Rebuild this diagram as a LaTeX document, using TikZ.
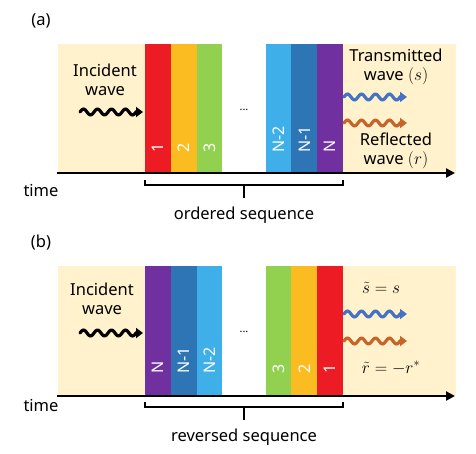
\documentclass[tikz,border=0pt]{standalone}
\usepackage{fontspec}
\setmainfont{Noto Sans}
\usetikzlibrary{arrows.meta}
\definecolor{beige}{HTML}{FFF2CC}
\definecolor{cred}{HTML}{ED1C24}
\definecolor{corange}{HTML}{FBBC21}
\definecolor{cgreen}{HTML}{92D050}
\definecolor{clblue}{HTML}{3FAFEA}
\definecolor{cblue}{HTML}{2E75B6}
\definecolor{cpurple}{HTML}{7030A0}
\definecolor{wblue}{HTML}{4472C4}
\definecolor{worange}{HTML}{C5652A}
\tikzset{
  bg/.style={fill=beige, draw=none},
  stripbox/.style={minimum width=25.8pt, minimum height=129pt, inner sep=0pt, outer sep=0pt, draw=none, anchor=north west},
  slabel/.style={rotate=90, anchor=west, inner sep=0pt, text=white, font=\fontsize{16}{18}\selectfont},
  txt/.style={font=\fontsize{16.5}{19}\selectfont, inner sep=0pt, align=center},
  mtxt/.style={font=\fontsize{18.5}{20}\selectfont, inner sep=0pt, align=center},
  axisline/.style={line width=2.6pt, -{Triangle[length=9pt,width=9pt]}},
  bracket/.style={line width=1.3pt},
  wavepic/.pic={\draw[line width=3.2pt, line cap=round, -{Triangle[length=7pt,width=10pt]}]
      plot[domain=0:56, samples=80, smooth] (\x,{-2.9*sin(\x*25.7143)}) -- (63,0);},
}
\begin{document}
\begin{tikzpicture}[x=1pt,y=-1pt]
\useasboundingbox (0,0) rectangle (476,453);
% ---------------- panel (a)
\node[txt] (la) at (41,21) {(a)};
\fill[bg] (58,44) rectangle (145,173);
\fill[bg] (343,44) rectangle (456,173);
\node[stripbox, fill=cred]    (a1) at (145,44) {};
\node[stripbox, fill=corange] (a2) at (170.8,44) {};
\node[stripbox, fill=cgreen]  (a3) at (196.6,44) {};
\node[stripbox, fill=clblue]  (a4) at (265.6,44) {};
\node[stripbox, fill=cblue]   (a5) at (291.4,44) {};
\node[stripbox, fill=cpurple] (a6) at (317.2,44) {};
\node[slabel] (ta1) at (157.9,153) {1};
\node[slabel] (ta2) at (183.7,153) {2};
\node[slabel] (ta3) at (209.5,153) {3};
\node[slabel] (ta4) at (278.5,153) {N-2};
\node[slabel] (ta5) at (304.3,153) {N-1};
\node[slabel] (ta6) at (330.1,153) {N};
\node[txt] (dota) at (244,110) {\fontsize{11}{12}\selectfont ...};
\node[txt] (inca) at (105,80) {Incident\\wave};
\coordinate (wa0) at (80,112);
\pic[black] at (wa0) {wavepic};
\node[txt] (tra) at (396,67) {Transmitted\\wave {\fontsize{18}{20}\selectfont\((s)\)}};
\node[txt] (rea) at (396,151) {Reflected\\wave {\fontsize{18}{20}\selectfont\((r)\)}};
\coordinate (wa1) at (344,97);
\coordinate (wa2) at (344,123);
\pic[wblue] at (wa1) {wavepic};
\pic[worange] at (wa2) {wavepic};
\coordinate (axa0) at (57,173);
\coordinate (axa1) at (455,173);
\draw[axisline] (axa0) -- (axa1);
\node[txt] (tia) at (41,190) {time};
\draw[bracket] (145,180) -- (145,185) -- (343,185) -- (343,180);
\draw[bracket] (244,185) -- (244,198);
\node[txt] (oa) at (244,215) {ordered sequence};
% ---------------- panel (b)
\node[txt] (lb) at (41,243) {(b)};
\fill[bg] (58,266) rectangle (145,395);
\fill[bg] (343,266) rectangle (456,395);
\node[stripbox, fill=cpurple] (b1) at (145,266) {};
\node[stripbox, fill=cblue]   (b2) at (170.8,266) {};
\node[stripbox, fill=clblue]  (b3) at (196.6,266) {};
\node[stripbox, fill=cgreen]  (b4) at (265.6,266) {};
\node[stripbox, fill=corange] (b5) at (291.4,266) {};
\node[stripbox, fill=cred]    (b6) at (317.2,266) {};
\node[slabel] (tb1) at (157.9,374) {N};
\node[slabel] (tb2) at (183.7,374) {N-1};
\node[slabel] (tb3) at (209.5,374) {N-2};
\node[slabel] (tb4) at (278.5,374) {3};
\node[slabel] (tb5) at (304.3,374) {2};
\node[slabel] (tb6) at (330.1,374) {1};
\node[txt] (dotb) at (244,332) {\fontsize{11}{12}\selectfont ...};
\node[txt] (incb) at (102,299) {Incident\\wave};
\coordinate (wb0) at (80,333);
\pic[black] at (wb0) {wavepic};
\node[mtxt] (trb) at (381,288) {\(\tilde{s} = s\)};
\node[mtxt] (reb) at (391,368) {\(\tilde{r} = -r^{*}\)};
\coordinate (wb1) at (344,314);
\coordinate (wb2) at (344,341);
\pic[wblue] at (wb1) {wavepic};
\pic[worange] at (wb2) {wavepic};
\coordinate (axb0) at (57,396);
\coordinate (axb1) at (455,396);
\draw[axisline] (axb0) -- (axb1);
\node[txt] (tib) at (41,405) {time};
\draw[bracket] (145,402) -- (145,407) -- (343,407) -- (343,402);
\draw[bracket] (244,407) -- (244,420);
\node[txt] (ob) at (244,437) {reversed sequence};
\end{tikzpicture}
\end{document}
